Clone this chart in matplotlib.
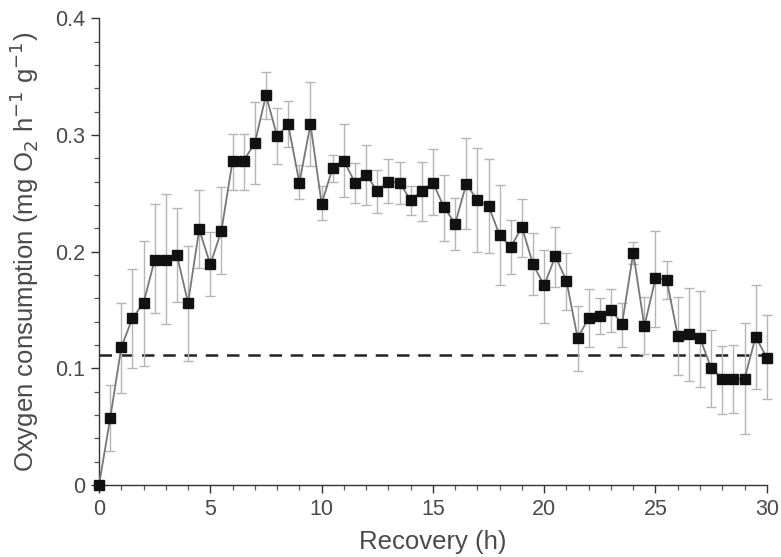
import numpy as np
import matplotlib
matplotlib.use("Agg")
import matplotlib.pyplot as plt
from matplotlib.ticker import MultipleLocator

plt.rcParams['font.family'] = ['Liberation Sans', 'DejaVu Sans']

# recovery time (h), sampled every half hour
hours = np.arange(0, 30.5, 0.5)

# mean oxygen consumption
o2_mean = [0.000, 0.057, 0.118, 0.143, 0.156, 0.193, 0.193, 0.197, 0.156, 0.219,
           0.189, 0.218, 0.278, 0.278, 0.293, 0.334, 0.299, 0.309, 0.259, 0.309,
           0.241, 0.272, 0.278, 0.259, 0.266, 0.252, 0.260, 0.259, 0.244, 0.252,
           0.259, 0.238, 0.224, 0.258, 0.244, 0.239, 0.214, 0.204, 0.221, 0.189,
           0.171, 0.196, 0.175, 0.126, 0.143, 0.145, 0.150, 0.138, 0.199, 0.136,
           0.177, 0.176, 0.128, 0.129, 0.126, 0.100, 0.091, 0.091, 0.091, 0.127,
           0.109]

# error bar ends (upper / lower)
o2_upper = [0.000, 0.086, 0.156, 0.185, 0.209, 0.241, 0.249, 0.237, 0.205, 0.253,
            0.217, 0.255, 0.301, 0.301, 0.328, 0.354, 0.323, 0.329, 0.274, 0.345,
            0.256, 0.283, 0.309, 0.276, 0.291, 0.270, 0.279, 0.277, 0.256, 0.277,
            0.288, 0.266, 0.246, 0.297, 0.289, 0.279, 0.257, 0.227, 0.245, 0.216,
            0.201, 0.221, 0.199, 0.153, 0.168, 0.160, 0.168, 0.156, 0.208, 0.161,
            0.218, 0.192, 0.161, 0.169, 0.166, 0.133, 0.119, 0.120, 0.139, 0.171,
            0.146]
o2_lower = [0.000, 0.029, 0.079, 0.100, 0.102, 0.147, 0.138, 0.157, 0.106, 0.186,
            0.162, 0.181, 0.253, 0.253, 0.258, 0.314, 0.275, 0.290, 0.245, 0.273,
            0.227, 0.260, 0.247, 0.242, 0.240, 0.233, 0.242, 0.241, 0.231, 0.226,
            0.231, 0.209, 0.201, 0.219, 0.200, 0.199, 0.171, 0.181, 0.195, 0.163,
            0.139, 0.170, 0.150, 0.098, 0.118, 0.129, 0.131, 0.118, 0.189, 0.112,
            0.135, 0.159, 0.094, 0.089, 0.084, 0.067, 0.061, 0.062, 0.044, 0.082,
            0.074]

# pre-exercise (routine) level
routine_level = 0.111

o2_mean = np.array(o2_mean)
yerr = [o2_mean - np.array(o2_lower), np.array(o2_upper) - o2_mean]

fig = plt.figure(figsize=(7.81, 5.57), dpi=100)
ax = fig.add_axes([0.1268, 0.1293, 0.855, 0.838])

ax.errorbar(hours, o2_mean, yerr=yerr, fmt='none', ecolor='#b5b5b5',
            elinewidth=1.0, capsize=3.5, capthick=1.0, zorder=2, clip_on=False)
ax.plot(hours, o2_mean, color='#777777', lw=1.3, zorder=3, clip_on=False)
ax.plot(hours, o2_mean, ls='none', marker='s', ms=6.5, color='#111111',
        zorder=4, clip_on=False)
ax.plot([0, 30], [routine_level, routine_level], color='#222222', lw=1.8,
        ls=(0, (5, 3.5)), zorder=1)

ax.set_xlim(0, 30)
ax.set_ylim(0, 0.4)
ax.xaxis.set_major_locator(MultipleLocator(5))
ax.xaxis.set_minor_locator(MultipleLocator(1))
ax.yaxis.set_major_locator(MultipleLocator(0.1))
ax.yaxis.set_minor_locator(MultipleLocator(0.02))
ax.yaxis.set_major_formatter(plt.FuncFormatter(lambda v, p: '0' if v == 0 else f'{v:.1f}'))

for s in ['top', 'right']:
    ax.spines[s].set_visible(False)
for s in ['left', 'bottom']:
    ax.spines[s].set_color('#333333')
    ax.spines[s].set_linewidth(1.0)

ax.tick_params(which='major', direction='out', length=6, width=1.0,
               color='#333333', labelsize=15.5, labelcolor='#4a4a4a', pad=4)
ax.tick_params(which='minor', direction='out', length=3.5, width=0.9, color='#555555')

ax.set_xlabel('Recovery (h)', fontsize=18.5, color='#4a4a4a', labelpad=7)
ax.set_ylabel('Oxygen consumption (mg O$_2$ h$^{-1}$ g$^{-1}$)', fontsize=18.5,
              color='#4a4a4a', labelpad=10)

fig.savefig('out.png', dpi=100)
